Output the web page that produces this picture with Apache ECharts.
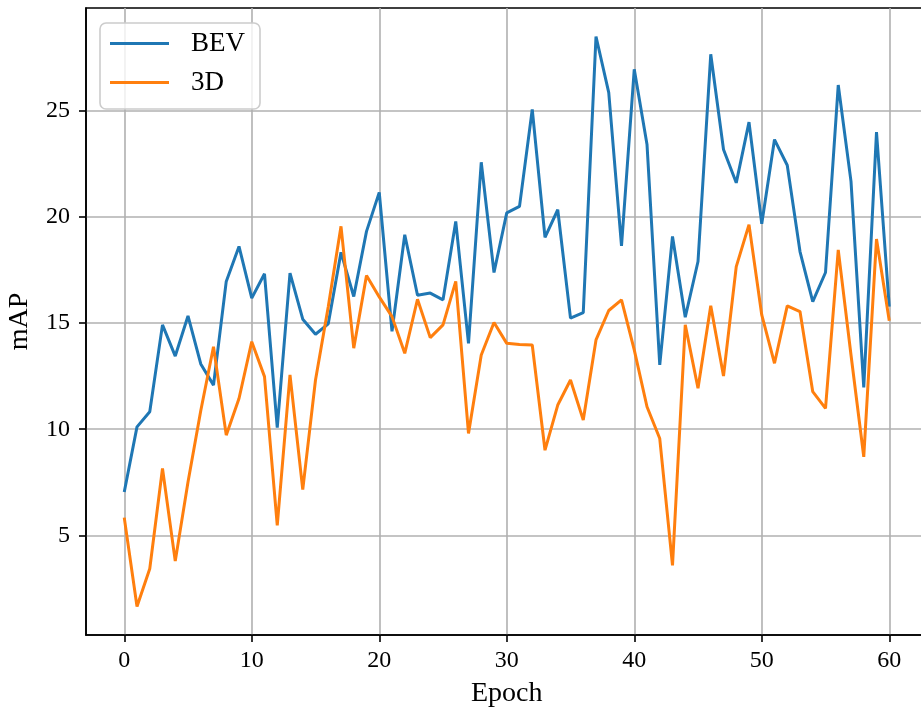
<!DOCTYPE html>
<html>
<head>
<meta charset="utf-8">
<script src="https://cdn.jsdelivr.net/npm/echarts@6/dist/echarts.min.js"></script>
<style>html,body{margin:0;padding:0;background:#fff;overflow:hidden;}#c{width:950px;height:708px;}</style>
</head>
<body>
<div id="c"></div>
<script>
const epochs = Array.from({length: 61}, (_, i) => i);
const bev = [7.04, 10.11, 10.82, 14.92, 13.45, 15.34, 13.08, 12.08, 16.97, 18.62,
  16.18, 17.33, 10.07, 17.36, 15.19, 14.48, 14.97, 18.34, 16.26, 19.33,
  21.17, 14.62, 19.17, 16.32, 16.42, 16.10, 19.80, 14.05, 22.59, 17.39,
  20.20, 20.51, 25.08, 19.05, 20.35, 15.24, 15.50, 28.52, 25.87, 18.65,
  26.97, 23.43, 13.03, 19.09, 15.28, 17.91, 27.68, 23.19, 21.62, 24.48,
  19.69, 23.66, 22.45, 18.38, 16.02, 17.39, 26.23, 21.69, 11.97, 24.01, 15.78];
const d3 = [5.83, 1.64, 3.42, 8.15, 3.78, 7.51, 10.87, 13.89, 9.72, 11.45,
  14.13, 12.48, 5.47, 12.56, 7.15, 12.32, 15.78, 19.57, 13.82, 17.25,
  16.24, 15.31, 13.58, 16.13, 14.32, 14.92, 16.97, 9.80, 13.50, 15.03,
  14.05, 14.00, 13.97, 9.01, 11.14, 12.32, 10.43, 14.21, 15.60, 16.10,
  13.74, 11.06, 9.56, 3.58, 14.92, 11.93, 15.82, 12.51, 17.67, 19.65,
  15.39, 13.11, 15.82, 15.55, 11.77, 10.98, 18.46, 13.50, 8.70, 18.97, 15.12];
const xTicks = [0, 10, 20, 30, 40, 50, 60];
const yTicks = [5, 10, 15, 20, 25];
const seriesNames = ['BEV', '3D'];

const all = bev.concat(d3);
const dmin = Math.min(...all), dmax = Math.max(...all);
const pad = (dmax - dmin) * 0.05;
const xpad = (epochs[epochs.length - 1] - epochs[0]) * 0.05;

const FONT = 'Liberation Serif';
const chart = echarts.init(document.getElementById('c'), null, {renderer: 'canvas'});
chart.setOption({
  animation: false,
  backgroundColor: '#fff',
  grid: {left: 86, top: 8, width: 841.5, height: 627, show: true, outerBoundsMode: 'none',
         borderColor: '#000', borderWidth: 1.6, backgroundColor: 'transparent', containLabel: false},
  legend: {
    orient: 'vertical', left: 100, top: 23,
    data: seriesNames.map(n => ({name: n, icon: 'rect'})),
    itemWidth: 59, itemHeight: 3, itemGap: 12,
    padding: [7, 15, 13, 10],
    backgroundColor: 'rgba(255,255,255,0.8)', borderColor: '#cccccc', borderWidth: 1.6, borderRadius: 6,
    textStyle: {fontFamily: FONT, fontSize: 27, color: '#000', lineHeight: 27, padding: [0, 0, 0, 17]}
  },
  xAxis: {
    type: 'value', min: epochs[0] - xpad, max: epochs[epochs.length - 1] + xpad,
    name: 'Epoch', nameLocation: 'middle', nameGap: 45,
    nameTextStyle: {fontFamily: FONT, fontSize: 28, color: '#000'},
    axisLine: {show: true, onZero: false, lineStyle: {color: '#000', width: 1.6}},
    axisTick: {show: true, length: 7, lineStyle: {color: '#000', width: 1.6}, customValues: xTicks},
    axisLabel: {fontFamily: FONT, fontSize: 24, color: '#000', margin: 14, customValues: xTicks},
    splitLine: {show: true, lineStyle: {color: '#b0b0b0', width: 1.6}}
  },
  yAxis: {
    type: 'value', min: dmin - pad, max: dmax + pad,
    name: 'mAP', nameLocation: 'middle', nameGap: 52,
    nameTextStyle: {fontFamily: FONT, fontSize: 28, color: '#000'},
    axisLine: {show: true, onZero: false, lineStyle: {color: '#000', width: 1.6}},
    axisTick: {show: true, length: 7, lineStyle: {color: '#000', width: 1.6}, customValues: yTicks},
    axisLabel: {fontFamily: FONT, fontSize: 24, color: '#000', margin: 16, customValues: yTicks},
    splitLine: {show: true, lineStyle: {color: '#b0b0b0', width: 1.6}}
  },
  series: [
    {name: seriesNames[0], type: 'line', data: epochs.map((e, i) => [e, bev[i]]),
     showSymbol: false, symbol: 'none', color: '#1f77b4', lineStyle: {width: 3, color: '#1f77b4'}},
    {name: seriesNames[1], type: 'line', data: epochs.map((e, i) => [e, d3[i]]),
     showSymbol: false, symbol: 'none', color: '#ff7f0e', lineStyle: {width: 3, color: '#ff7f0e'}}
  ]
});
</script>
</body>
</html>
